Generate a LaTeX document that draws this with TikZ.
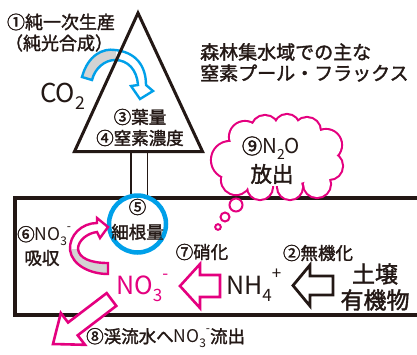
\documentclass[tikz,border=0pt]{standalone}
\usepackage{fontspec}
\setmainfont{Noto Sans CJK JP}[FakeBold=1.7]
\newfontfamily\lat{Noto Sans CJK JP}
\definecolor{pk}{HTML}{E4007F}
\definecolor{bl}{HTML}{00A0E9}
\definecolor{ink}{HTML}{231815}
\definecolor{band}{HTML}{D3D3D3}
\newcommand\lsub[1]{\raisebox{-0.28em}{\scalebox{0.68}{#1}}}
\newcommand\lsup[1]{\raisebox{0.6em}{\scalebox{0.68}{#1}}}
\newcommand\fs[1]{\fontsize{#1}{#1}\selectfont}
\begin{document}
\begin{tikzpicture}[x=1pt,y=-1pt,
  txt/.style={inner sep=0pt, text=ink, font=\fs{17.5}},
  hollowpk/.style={draw=pk, line width=2.6pt, fill=white, line join=miter},
  hollowbk/.style={draw=ink, line width=2.8pt, fill=white, line join=miter},
  frame/.style={draw=ink, line width=4pt},
  cloudline/.style={draw=pk, line width=4.2pt},
  bubble/.style={draw=pk, line width=2pt, fill=white}]
\useasboundingbox (0,0) rectangle (417,354);
\fill[white] (0,0) rectangle (417,354);

% soil box (open on the right)
\draw[frame] (417,198) -- (15,198) -- (15,315) -- (417,315);

% trunk
\coordinate (tl1) at (131,151);
\coordinate (tl2) at (131,198);
\coordinate (tr1) at (147.5,151);
\coordinate (tr2) at (147.5,198);
\draw[ink, line width=1.4pt] (tl1) -- (tl2) (tr1) -- (tr2);

% cloud
\foreach \cx/\cy/\r in {230/160/18, 245/137/15, 265/129/13, 287/127/12, 307/131/13, 326/145/15,
  329/166/13, 317/184/13, 290/187/12, 260/187/12, 236/180/14}
  \draw[cloudline] (\cx,\cy) circle[radius=\r pt];
\foreach \cx/\cy/\r in {230/160/18, 245/137/15, 265/129/13, 287/127/12, 307/131/13, 326/145/15,
  329/166/13, 317/184/13, 290/187/12, 260/187/12, 236/180/14}
  \fill[white] (\cx,\cy) circle[radius=\r pt];
\fill[white] (278,160) ellipse[x radius=48pt, y radius=26pt];
\draw[bubble] (236,205) circle[radius=6.5pt];
\draw[bubble] (225,217) circle[radius=4.5pt];
\draw[bubble] (218,227) circle[radius=2.8pt];

% blue curved arrow (photosynthesis)
\def\bluepath{(82,77) .. controls (88,55) and (103,48) .. (115,50) .. controls (135,52) and (146,65) .. (146,85) -- (153,91) -- (140,99) -- (131,86) -- (138,85) .. controls (137,70) and (128,60) .. (115,60) .. controls (105,60) and (95,68) .. (92,80) -- cycle}
\fill[white] \bluepath;
\begin{scope}
  \clip (0,0) rectangle (116,120);
  \fill[band] \bluepath;
\end{scope}
\draw[bl, line width=2.4pt, line join=miter] \bluepath;

% tree crown
\draw[ink, line width=3pt, line join=miter] (138,13) -- (202.5,151.5) -- (74.5,151.5) -- cycle;

% fine roots circle
\node[circle, draw=bl, line width=4.5pt, fill=white, minimum size=57pt, inner sep=0pt] (root) at (137.5,224) {};
\node[txt] (n5) at (137.5,207) {⑤};
\node[txt] (n5b) at (137.5,232) {細根量};

% pink hook arrow (uptake)
\def\hookpath{(108,263) .. controls (90,263) and (79,258) .. (78,249) .. controls (78,240) and (88,233) .. (97,232) -- (100,238) -- (108,227) -- (97,218) -- (97,223) .. controls (82,223) and (69,235) .. (70,250) .. controls (72,265) and (90,274) .. (108,274) -- cycle}
\fill[white] \hookpath;
\begin{scope}
  \clip (0,249) rectangle (120,280);
  \fill[band] \hookpath;
\end{scope}
\draw[pk, line width=2.4pt, line join=miter] \hookpath;

% nitrification arrow (pink)
\draw[hollowpk] (220,275) -- (200,275) -- (200,264) -- (180,286) -- (200,308) -- (200,297) -- (220,297) -- cycle;
% mineralization arrow (black)
\draw[hollowbk] (333,276) -- (310,276) -- (310,265) -- (293,285.5) -- (310,306) -- (310,295) -- (333,295) -- cycle;
% leaching arrow (pink)
\draw[hollowpk] (106.7,293.1) -- (68.1,322.5) -- (60.8,313) -- (53,344) -- (85,344.8) -- (77.7,335.3) -- (116.3,305.9) -- cycle;

% texts
\node[txt, font=\fs{18}] (t1) at (61,22) {①純一次生産};
\node[txt, font=\fs{18}] (t1b) at (59,43) {（純光合成）};
\node[txt, font=\fs{19}, anchor=west] (title1) at (200,52) {森林集水域での主な};
\node[txt, font=\fs{19}, anchor=west] (title2) at (200,73) {窒素プール・フラックス};
\node[txt, font=\fs{26}\lat, anchor=west] (co2) at (40,96) {CO\lsub{2}};
\node[txt] (t3) at (140,117) {③葉量};
\node[txt] (t4) at (140,138) {④窒素濃度};
\node[txt, font=\fs{20.5}] (t9) at (271,148) {⑨{\lat N\lsub{2}O}};
\node[txt, font=\fs{21.5}] (t9b) at (272,174) {放出};
\node[txt, anchor=west] (t6) at (17,236) {⑥{\lat NO\lsub{3}\lsup{-}}};
\node[txt] (t6b) at (42,258) {吸収};
\node[txt] (t7) at (202,252) {⑦硝化};
\node[txt] (t2) at (318,253) {②無機化};
\node[txt, font=\fs{23}] (soil1) at (375,274) {土壌};
\node[txt, font=\fs{23}] (soil2) at (375,300) {有機物};
\node[txt, font=\fs{25}\lat, text=pk, anchor=west] (no3) at (116,288) {NO\lsub{3}\lsup{-}};
\node[txt, font=\fs{25}\lat, anchor=west] (nh4) at (226,285) {NH\lsub{4}\lsup{+}};
\node[txt, anchor=west] (t8) at (86,338) {⑧渓流水へ{\lat NO\lsub{3}\lsup{-}}流出};
\end{tikzpicture}
\end{document}
